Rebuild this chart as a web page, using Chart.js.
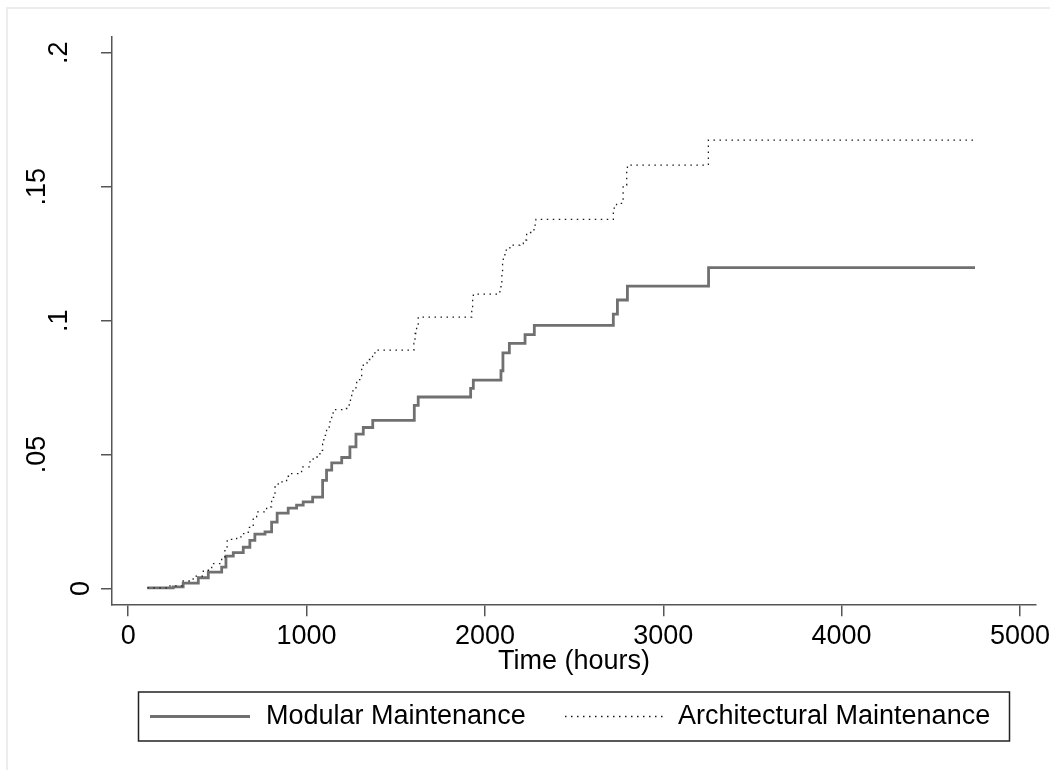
<!DOCTYPE html>
<html>
<head>
<meta charset="utf-8">
<script src="https://cdn.jsdelivr.net/npm/chart.js@4/dist/chart.umd.min.js"></script>
<style>
  html, body { margin: 0; padding: 0; background: #fff; }
  canvas { display: block; }
</style>
</head>
<body>
<canvas id="chart" width="1050" height="770"></canvas>
<script>
// cumulative failure estimates
const modularHours = [107, 252, 308, 393, 449, 524, 548, 589, 645, 682, 710, 767, 804, 835, 897, 944, 981, 1034,
  1090, 1112, 1141, 1197, 1243, 1277, 1318, 1371, 1604, 1626, 1920, 1935, 2090, 2101, 2137, 2225, 2277,
  2720, 2743, 2799, 3254, 4748]
const modularRisk = [0.0002, 0.0006, 0.002, 0.004, 0.0061, 0.008, 0.0121, 0.0134, 0.0154, 0.018, 0.0203, 0.0211,
  0.0248, 0.0281, 0.03, 0.0311, 0.0323, 0.0341, 0.0404, 0.0442, 0.0469, 0.0489, 0.0529, 0.0576, 0.0601, 0.0628,
  0.0684, 0.0715, 0.0747, 0.0778, 0.0813, 0.088, 0.0915, 0.0948, 0.0982, 0.1024, 0.1077, 0.1129, 0.1198, 0.1198]

const architecturalHours = [107, 234, 308, 364, 421, 468, 524, 542, 555, 608, 636, 673, 701, 720, 776, 804, 823, 841,
  888, 916, 972, 1019, 1037, 1075, 1090, 1097, 1112, 1127, 1141, 1149, 1202, 1239, 1246, 1253, 1277, 1281, 1309,
  1318, 1346, 1370, 1393, 1602, 1608, 1617, 1626, 1926, 1931, 1935, 2084, 2090, 2095, 2099, 2103, 2112, 2140,
  2196, 2215, 2234, 2264, 2275, 2286, 2720, 2738, 2775, 2795, 2799, 3253, 4748]
const architecturalRisk = [0.0002, 0.001, 0.0028, 0.0046, 0.0068, 0.0093, 0.0116, 0.0155, 0.0183, 0.0193, 0.0205,
  0.0228, 0.0267, 0.0286, 0.0305, 0.034, 0.0379, 0.0398, 0.0419, 0.0429, 0.0454, 0.0473, 0.0491, 0.0516, 0.0539,
  0.0572, 0.0597, 0.0622, 0.0647, 0.0668, 0.0672, 0.0693, 0.0715, 0.0738, 0.0759, 0.078, 0.0822, 0.0842, 0.0855,
  0.088, 0.089, 0.0915, 0.0952, 0.0983, 0.1013, 0.1052, 0.1079, 0.1099, 0.1114, 0.1139, 0.1176, 0.122, 0.1241,
  0.1263, 0.1282, 0.1288, 0.1301, 0.1329, 0.1332, 0.1357, 0.1378, 0.142, 0.1438, 0.1506, 0.1556, 0.1581, 0.1674,
  0.1674]

const xTicks = [0, 1000, 2000, 3000, 4000, 5000]
const yTicks = [0, 0.05, 0.1, 0.15, 0.2]
const seriesNames = ["Modular Maintenance", "Architectural Maintenance"]
const xTitle = "Time (hours)"

const FONT = "'Liberation Sans', Arial, Helvetica, sans-serif"
const AXIS = "#555"

const toPoints = (xs, ys) => xs.map((x, i) => ({ x, y: ys[i] }))
// stata style: ".15" not "0.15"
const stataLabel = (v) => v === 0 ? "0" : String(v).replace(/^0\./, ".")

const axisGrid = { display: true, drawOnChartArea: false, drawTicks: true, tickLength: 11, color: AXIS, lineWidth: 1.5 }
const axisBorder = { display: true, color: AXIS, width: 1.5 }

const stataDecor = {
  id: "stataDecor",
  beforeDraw(chart) {
    const ctx = chart.ctx
    ctx.save()
    ctx.fillStyle = "#ececec"
    ctx.fillRect(6, 7, chart.width, 2)
    ctx.fillRect(6, 7, 2, chart.height)
    ctx.restore()
  },
  afterDraw(chart) {
    const ctx = chart.ctx
    const ys = chart.scales.y
    ctx.save()
    ctx.font = `27px ${FONT}`
    ctx.fillStyle = "#000"
    ctx.textAlign = "center"
    ctx.textBaseline = "middle"
    // rotated y labels, staggered the way stata places them
    yTicks.forEach(v => {
      const label = stataLabel(v)
      ctx.save()
      ctx.translate(81 - 22 * (label.length - 1), ys.getPixelForValue(v))
      ctx.rotate(-Math.PI / 2)
      ctx.fillText(label, 0, 1)
      ctx.restore()
    })

    // legend box
    ctx.lineWidth = 1.5
    ctx.strokeStyle = "#222"
    ctx.strokeRect(138.5, 692, 871, 49)
    const slots = [[150, 250, 266], [565, 667, 678]]
    chart.data.datasets.forEach((ds, i) => {
      const [x0, x1, tx] = slots[i]
      ctx.save()
      ctx.strokeStyle = ds.borderColor
      ctx.lineWidth = ds.borderWidth
      ctx.setLineDash(ds.borderDash || [])
      ctx.beginPath()
      ctx.moveTo(x0, 716.5)
      ctx.lineTo(x1, 716.5)
      ctx.stroke()
      ctx.restore()
      ctx.textAlign = "left"
      ctx.fillText(ds.label, tx, 717)
    })
    ctx.restore()
  }
}

new Chart(document.getElementById("chart"), {
  type: "line",
  data: {
    datasets: [
      {
        label: seriesNames[0],
        data: toPoints(modularHours, modularRisk),
        stepped: "before",
        borderColor: "#707070",
        borderWidth: 2.8,
        pointRadius: 0,
        fill: false,
        order: 1
      },
      {
        label: seriesNames[1],
        data: toPoints(architecturalHours, architecturalRisk),
        stepped: "before",
        borderColor: "#1a1a1a",
        borderWidth: 1.3,
        borderDash: [1.5, 4.5],
        pointRadius: 0,
        fill: false,
        order: 0
      }
    ]
  },
  options: {
    responsive: false,
    animation: false,
    layout: { padding: { top: 37, right: 14, bottom: 92, left: 0 } },
    plugins: {
      legend: { display: false },
      tooltip: { enabled: false }
    },
    scales: {
      x: {
        type: "linear",
        min: -91,
        max: 5090,
        afterBuildTicks: s => { s.ticks = xTicks.map(v => ({ value: v })) },
        afterFit: s => { s.paddingLeft = 0; s.paddingRight = 0 },
        grid: axisGrid,
        border: axisBorder,
        ticks: {
          padding: 4.5,
          color: "#000",
          maxRotation: 0,
          minRotation: 0,
          font: { family: FONT, size: 27, lineHeight: 1.2 },
          callback: v => String(v)
        },
        title: {
          display: true,
          text: xTitle,
          color: "#000",
          font: { family: FONT, size: 27, lineHeight: 1.2 },
          padding: { top: -12, bottom: 0 }
        }
      },
      y: {
        type: "linear",
        min: -0.00624,
        max: 0.2059,
        afterBuildTicks: s => { s.ticks = yTicks.map(v => ({ value: v })) },
        afterFit: s => { s.width = 112 },
        grid: axisGrid,
        border: axisBorder,
        ticks: { display: false }
      }
    }
  },
  plugins: [stataDecor]
})
</script>
</body>
</html>
